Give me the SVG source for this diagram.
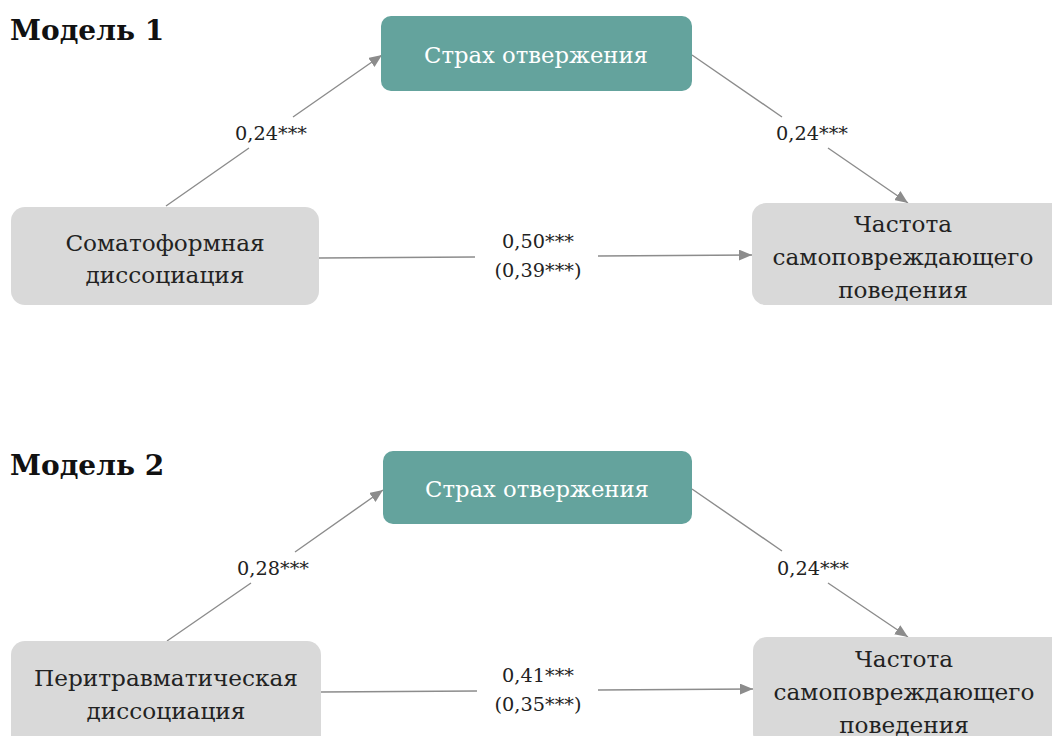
<svg xmlns="http://www.w3.org/2000/svg" width="1052" height="736" viewBox="0 0 1052 736">
<style>
text{font-family:"DejaVu Serif","Liberation Serif",serif;}
.title{font-size:28px;font-weight:bold;fill:#111;}
.teal{fill:#64a39d;}
.gray{fill:#d9d9d9;}
.tw{font-size:22.7px;fill:#ffffff;text-anchor:middle;}
.tb{font-size:23.2px;fill:#222;text-anchor:middle;}
.lab{font-size:19.3px;fill:#222;text-anchor:middle;}
.conn{stroke:#8c8c8c;stroke-width:1.4;fill:none;marker-end:url(#ah);}
</style>
<defs>
<marker id="ah" markerUnits="userSpaceOnUse" markerWidth="13" markerHeight="11" refX="13" refY="5.5" orient="auto">
<path d="M0,0 L13,5.5 L0,11 z" fill="#8c8c8c"/>
</marker>
</defs>
<rect width="1052" height="736" fill="#ffffff"/>
<text class="title" x="10" y="40">Модель 1</text>
<text class="title" x="10" y="475">Модель 2</text>
<g id="connectors">
<path class="conn" d="M166,206 L249,148 M293,117 L382,55"/>
<path class="conn" d="M692,55 L782,117 M828,148 L908,203"/>
<path class="conn" d="M319,258 L475,257 M598,256 L752,255"/>
<path class="conn" d="M167,641 L251,583 M295,552 L383,490"/>
<path class="conn" d="M692,489 L782,551 M828,583 L908,637"/>
<path class="conn" d="M321,692 L477,691 M598,690 L753,689"/>
</g>
<g id="labels">
<text class="lab" x="271" y="140">0,24***</text>
<text class="lab" x="812" y="140">0,24***</text>
<text class="lab" x="538" y="248">0,50***</text>
<text class="lab" x="538" y="277">(0,39***)</text>
<text class="lab" x="273" y="575">0,28***</text>
<text class="lab" x="813" y="575">0,24***</text>
<text class="lab" x="538" y="682">0,41***</text>
<text class="lab" x="538" y="711">(0,35***)</text>
</g>
<g id="m1-fear">
<rect class="teal" x="381" y="16" width="311" height="75" rx="10"/>
<text class="tw" x="536" y="63">Страх отвержения</text>
</g>
<g id="m1-somatoform">
<rect class="gray" x="11" y="207" width="308" height="98" rx="14"/>
<text class="tb" x="165" y="251">Соматоформная</text>
<text class="tb" x="165" y="283">диссоциация</text>
</g>
<g id="m1-selfharm">
<rect class="gray" x="752" y="203" width="320" height="102" rx="14"/>
<text class="tb" x="903" y="232">Частота</text>
<text class="tb" x="903" y="265">самоповреждающего</text>
<text class="tb" x="903" y="298">поведения</text>
</g>
<g id="m2-fear">
<rect class="teal" x="383" y="451" width="309" height="73" rx="10"/>
<text class="tw" x="537" y="497">Страх отвержения</text>
</g>
<g id="m2-peritraumatic">
<rect class="gray" x="11" y="641" width="310" height="110" rx="14"/>
<text class="tb" x="166" y="686">Перитравматическая</text>
<text class="tb" x="166" y="719">диссоциация</text>
</g>
<g id="m2-selfharm">
<rect class="gray" x="753" y="637" width="320" height="110" rx="14"/>
<text class="tb" x="904" y="667">Частота</text>
<text class="tb" x="904" y="700">самоповреждающего</text>
<text class="tb" x="904" y="733">поведения</text>
</g>
</svg>
